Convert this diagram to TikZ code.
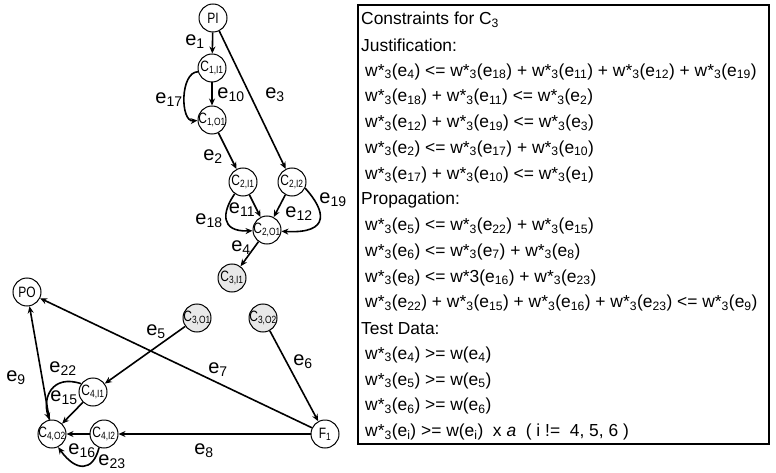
\documentclass[tikz,border=0pt]{standalone}
\usepackage{fontspec}
\setmainfont{Liberation Sans}
\usetikzlibrary{arrows.meta}
\newcommand{\sbs}[1]{\textsubscript{#1}}
\newcommand{\ws}{w*\sbs{3}}
\newcommand{\nl}[1]{\makebox[0pt]{\scalebox{0.8}[1]{#1}}}
\begin{document}
\begin{tikzpicture}[x=1pt,y=-1pt,
  nd/.style={circle,draw,line width=1pt,minimum size=28pt,inner sep=0pt,font=\fontsize{15}{15}\selectfont},
  gnd/.style={nd,fill=black!9},
  ar/.style={line width=1.6pt,-{Stealth[length=7pt,width=6pt]}},
  lb/.style={font=\fontsize{20}{20}\selectfont,inner sep=0pt},
  tx/.style={anchor=west,font=\fontsize{17.4}{18}\selectfont,inner sep=0pt},
  frame/.style={draw,line width=1.1pt}]
\useasboundingbox (0,0) rectangle (776,473);
% nodes
\node[nd] (pi) at (213,18) {\nl{PI}};
\node[nd] (c1i1) at (212,68) {\nl{C\sbs{1,I1}}};
\node[nd] (c1o1) at (212,120) {\nl{C\sbs{1,O1}}};
\node[nd] (c2i1) at (243,182) {\nl{C\sbs{2,I1}}};
\node[nd] (c2i2) at (292,182) {\nl{C\sbs{2,I2}}};
\node[nd] (c2o1) at (267,230) {\nl{C\sbs{2,O1}}};
\node[gnd] (c3i1) at (232,278) {\nl{C\sbs{3,I1}}};
\node[nd] (po) at (27,292) {\nl{PO}};
\node[gnd] (c3o1) at (197,318) {\nl{C\sbs{3,O1}}};
\node[gnd] (c3o2) at (263,318) {\nl{C\sbs{3,O2}}};
\node[nd] (c4i1) at (93,392) {\nl{C\sbs{4,I1}}};
\node[nd] (c4o2) at (52,434) {\nl{C\sbs{4,O2}}};
\node[nd] (c4i2) at (104,434) {\nl{C\sbs{4,I2}}};
\node[nd] (f1) at (325,434) {\nl{F\sbs{1}}};
% edges
\draw[ar] (pi) -- (c1i1);
\draw[ar] (c1i1) -- (c1o1);
\draw[ar] (c1i1.195) .. controls (180,72) and (180,122) .. (c1o1.182);
\draw[ar] (pi) -- (c2i2);
\draw[ar] (c1o1) -- (c2i1);
\draw[ar] (c2i1) -- (c2o1);
\draw[ar] (c2i2) -- (c2o1);
\draw[ar] (c2i1.235) .. controls (222,212) and (220,232) .. (c2o1.183);
\draw[ar] (c2i2.-25) .. controls (325,210) and (332,234) .. (c2o1.-5);
\draw[ar] (c2o1) -- (c3i1);
\draw[ar] (c3o1) -- (c4i1);
\draw[ar] (c3o2) -- (f1);
\draw[ar] (f1) -- (po);
\draw[ar] (f1) -- (c4i2);
\draw[ar] (c4i2) -- (c4o2);
\draw[ar] (c4i1) -- (c4o2);
\draw[ar] (c4o2) -- (po);
\draw[ar] (c4i1.145) .. controls (52,374) and (42,398) .. (c4o2.100);
\draw[ar] (c4i2.250) .. controls (93,472) and (76,472) .. (c4o2.-65);
% edge labels
\node[lb] (l1) at (195,42) {e\sbs{1}};
\node[lb] (l10) at (231,95) {e\sbs{10}};
\node[lb] (l17) at (169,100) {e\sbs{17}};
\node[lb] (l3) at (275,95) {e\sbs{3}};
\node[lb] (l2) at (213,157) {e\sbs{2}};
\node[lb] (l18) at (209,221) {e\sbs{18}};
\node[lb] (l11) at (242,210) {e\sbs{11}};
\node[lb] (l12) at (299,214) {e\sbs{12}};
\node[lb] (l19) at (333,200) {e\sbs{19}};
\node[lb] (l4) at (241,248) {e\sbs{4}};
\node[lb] (l5) at (156,332) {e\sbs{5}};
\node[lb] (l7) at (218,370) {e\sbs{7}};
\node[lb] (l6) at (303,362) {e\sbs{6}};
\node[lb] (l22) at (63,369) {e\sbs{22}};
\node[lb] (l9) at (16,378) {e\sbs{9}};
\node[lb] (l15) at (64,398) {e\sbs{15}};
\node[lb] (l16) at (82,451) {e\sbs{16}};
\node[lb] (l23) at (112,462) {e\sbs{23}};
\node[lb] (l8) at (204,451) {e\sbs{8}};
% constraint box
\draw[frame] (358,5) rectangle (769,444);
\node[tx] (t0) at (361,20) {Constraints for C\sbs{3}};
\node[tx] (t1) at (361,45.75) {Justification:};
\node[tx] (t2) at (365,71.5) {\ws(e\sbs{4}) <= \ws(e\sbs{18}) + \ws(e\sbs{11}) + \ws(e\sbs{12}) + \ws(e\sbs{19})};
\node[tx] (t3) at (365,97.25) {\ws(e\sbs{18}) + \ws(e\sbs{11}) <= \ws(e\sbs{2})};
\node[tx] (t4) at (365,123) {\ws(e\sbs{12}) + \ws(e\sbs{19}) <= \ws(e\sbs{3})};
\node[tx] (t5) at (365,148.75) {\ws(e\sbs{2}) <= \ws(e\sbs{17}) + \ws(e\sbs{10})};
\node[tx] (t6) at (365,174.5) {\ws(e\sbs{17}) + \ws(e\sbs{10}) <= \ws(e\sbs{1})};
\node[tx] (t7) at (361,200.25) {Propagation:};
\node[tx] (t8) at (365,226) {\ws(e\sbs{5}) <= \ws(e\sbs{22}) + \ws(e\sbs{15})};
\node[tx] (t9) at (365,251.75) {\ws(e\sbs{6}) <= \ws(e\sbs{7}) + \ws(e\sbs{8})};
\node[tx] (t10) at (365,277.5) {\ws(e\sbs{8}) <= w*3(e\sbs{16}) + \ws(e\sbs{23})};
\node[tx] (t11) at (365,303.25) {\ws(e\sbs{22}) + \ws(e\sbs{15}) + \ws(e\sbs{16}) + \ws(e\sbs{23}) <= \ws(e\sbs{9})};
\node[tx] (t12) at (361,329) {Test Data:};
\node[tx] (t13) at (365,354.75) {\ws(e\sbs{4}) >= w(e\sbs{4})};
\node[tx] (t14) at (365,380.5) {\ws(e\sbs{5}) >= w(e\sbs{5})};
\node[tx] (t15) at (365,406.25) {\ws(e\sbs{6}) >= w(e\sbs{6})};
\node[tx] (t16) at (365,432) {\ws(e\sbs{i}) >= w(e\sbs{i})\ \ x \textit{a}\ \ ( i != \ 4, 5, 6 )};
\end{tikzpicture}
\end{document}
